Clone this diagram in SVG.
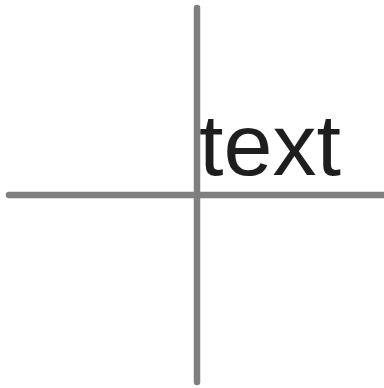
<svg xmlns="http://www.w3.org/2000/svg" width="384" height="388" viewBox="0 0 384 388">
<style>
.ln{stroke:#7f7f7f;stroke-width:6.5;stroke-linecap:round;fill:none}
.t{font-family:"Liberation Sans",Arial,sans-serif;font-size:88px;fill:#1e1e1e}
</style>
<rect width="384" height="388" fill="#fff"/>
<g id="connectors">
<line class="ln" x1="197" y1="8" x2="197" y2="382"/>
<line class="ln" x1="9" y1="195" x2="386" y2="195"/>
</g>
<g id="label">
<text class="t" x="199" y="175">text</text>
</g>
</svg>
